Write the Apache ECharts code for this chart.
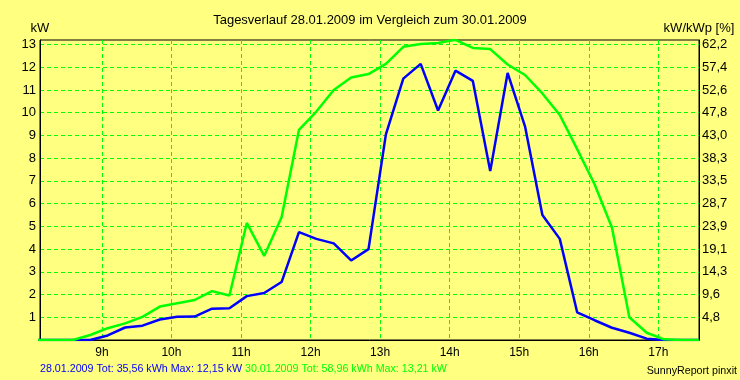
<!DOCTYPE html>
<html>
<head>
<meta charset="utf-8">
<script src="https://cdn.jsdelivr.net/npm/echarts@6/dist/echarts.min.js"></script>
<style>
html,body{margin:0;padding:0;background:#ffff80;}
#chart{width:740px;height:380px;}
</style>
</head>
<body>
<div id="chart"></div>
<script>
// ---- data ----
const times = ['8:05','8:20','8:35','8:50','9:05','9:20','9:35','9:50','10:05','10:20','10:35','10:50',
  '11:05','11:20','11:35','11:50','12:05','12:20','12:35','12:50','13:05','13:20','13:35','13:50',
  '14:05','14:20','14:35','14:50','15:05','15:20','15:35','15:50','16:05','16:20','16:35','16:50',
  '17:05','17:20','17:35'];
const power2801 = [0,0,0,0,0.2,0.55,0.63,0.9,1.02,1.03,1.38,1.4,
  1.93,2.07,2.55,4.75,4.45,4.25,3.5,4.0,9.05,11.5,12.15,10.1,
  11.85,11.4,7.43,11.75,9.4,5.5,4.45,1.22,0.87,0.54,0.32,0.06,
  0,0,0];
const power3001 = [0,0,0,0.22,0.52,0.73,1.02,1.47,1.62,1.76,2.15,1.96,
  5.15,3.7,5.4,9.25,10.05,11.0,11.55,11.7,12.15,12.9,13.02,13.07,
  13.21,12.85,12.8,12.12,11.66,10.85,9.9,8.4,6.85,4.95,1.0,0.32,
  0.03,0,0];
const xTickHours = [9,10,11,12,13,14,15,16,17];
const yTickValues = [1,2,3,4,5,6,7,8,9,10,11,12,13];
const leftTickLabels = ['1','2','3','4','5','6','7','8','9','10','11','12','13'];
const rightTickLabels = ['4,8','9,6','14,3','19,1','23,9','28,7','33,5','38,3','43,0','47,8','52,6','57,4','62,2'];
const titleText = 'Tagesverlauf 28.01.2009 im Vergleich zum 30.01.2009';
const leftAxisName = 'kW';
const rightAxisName = 'kW/kWp [%]';
const summary2801 = '28.01.2009 Tot: 35,56 kWh Max: 12,15 kW';
const summary3001 = '30.01.2009 Tot: 58,96 kWh Max: 13,21 kW';
const footerText = 'SunnyReport pinxit';

// ---- build ----
function toHour(t){ const p = t.split(':'); return Number(p[0]) + Number(p[1]) / 60; }
const data2801 = times.map((t, i) => [toHour(t), power2801[i]]);
const data3001 = times.map((t, i) => [toHour(t), power3001[i]]);

const FONT = 'Liberation Sans, Arial, sans-serif';
const gridLine = { show: true, lineStyle: { color: '#00ff00', type: [4, 3], width: 1 } };

const chart = echarts.init(document.getElementById('chart'), null, { renderer: 'canvas' });
chart.setOption({
  animation: false,
  backgroundColor: '#ffff80',
  textStyle: { fontFamily: FONT },
  title: [
    { text: titleText, left: 'center', top: 14, padding: 0,
      textStyle: { fontSize: 13, fontWeight: 'normal', color: '#000', fontFamily: FONT } },
    { text: '{a|' + summary2801 + '} {b|' + summary3001 + '}', left: 40, top: 364, padding: 0,
      textStyle: { fontSize: 10.7, fontWeight: 'normal', fontFamily: FONT,
        rich: { a: { color: '#0000ff', fontSize: 10.7, fontFamily: FONT },
                b: { color: '#00ff00', fontSize: 10.7, fontFamily: FONT } } } },
    { text: footerText, right: 3, top: 366, padding: 0,
      textStyle: { fontSize: 10.7, fontWeight: 'normal', color: '#000', fontFamily: FONT } }
  ],
  grid: { left: 40, top: 40, width: 659, height: 300, show: true, borderColor: '#000', borderWidth: 1,
          backgroundColor: 'transparent', containLabel: false, outerBoundsMode: 'none' },
  xAxis: {
    type: 'value', min: 8.11, max: 17.585,
    axisLine: { show: true, lineStyle: { color: '#000', width: 1 } },
    axisTick: { show: false, customValues: xTickHours },
    axisLabel: { customValues: xTickHours, formatter: v => v + 'h', fontSize: 12, color: '#000', margin: 7, fontFamily: FONT },
    splitLine: gridLine
  },
  yAxis: [
    { type: 'value', position: 'left', min: 0, max: 13.2,
      name: leftAxisName, nameLocation: 'end', nameGap: 5,
      nameTextStyle: { fontSize: 13, color: '#000', align: 'center', verticalAlign: 'bottom', fontFamily: FONT },
      axisLine: { show: true, lineStyle: { color: '#000', width: 1 } },
      axisTick: { show: false, customValues: yTickValues },
      axisLabel: { customValues: yTickValues, formatter: v => leftTickLabels[yTickValues.indexOf(v)] || '',
                   fontSize: 13, color: '#000', margin: 4, fontFamily: FONT },
      splitLine: gridLine },
    { type: 'value', position: 'right', min: 0, max: 13.2,
      name: rightAxisName, nameLocation: 'end', nameGap: 5,
      nameTextStyle: { fontSize: 13, color: '#000', align: 'center', verticalAlign: 'bottom', fontFamily: FONT },
      axisLine: { show: true, lineStyle: { color: '#000', width: 1 } },
      axisTick: { show: false, customValues: yTickValues },
      axisLabel: { customValues: yTickValues, formatter: v => rightTickLabels[yTickValues.indexOf(v)] || '',
                   fontSize: 13, color: '#000', margin: 3, fontFamily: FONT },
      splitLine: { show: false } }
  ],
  series: [
    { name: '28.01.2009', type: 'line', data: data2801, yAxisIndex: 0, showSymbol: false, symbol: 'none',
      lineStyle: { color: '#0000ff', width: 2.5 }, itemStyle: { color: '#0000ff' } },
    { name: '30.01.2009', type: 'line', data: data3001, yAxisIndex: 0, showSymbol: false, symbol: 'none',
      lineStyle: { color: '#00ff00', width: 2.5 }, itemStyle: { color: '#00ff00' } }
  ]
});
</script>
</body>
</html>
